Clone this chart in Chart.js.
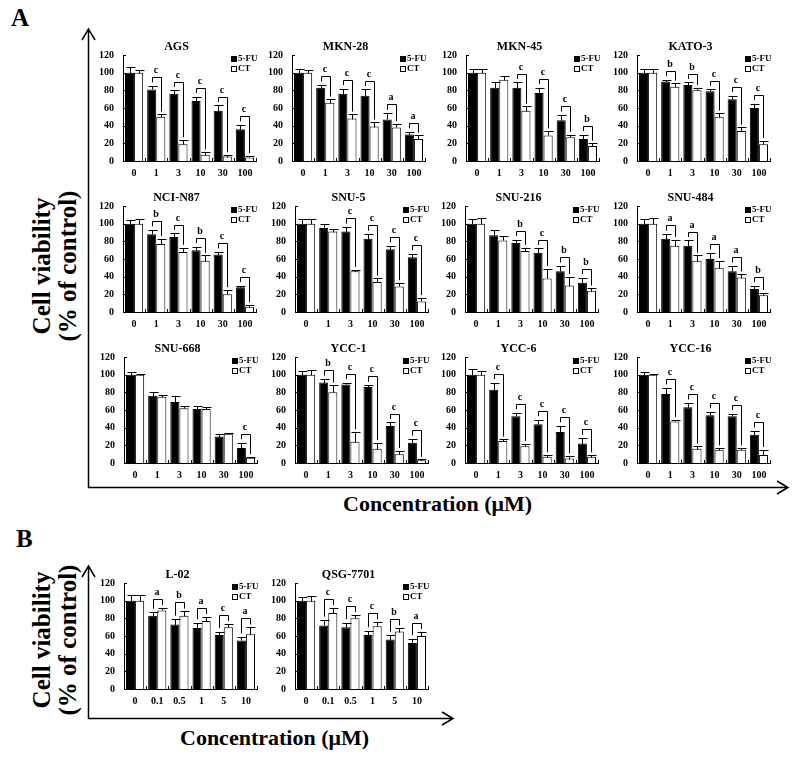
<!DOCTYPE html>
<html>
<head>
<meta charset="utf-8">
<script src="https://cdn.jsdelivr.net/npm/chart.js@4.4.1/dist/chart.umd.min.js"></script>
<style>
  body { margin: 0; width: 800px; height: 759px; background: #fff; position: relative; overflow: hidden;
         font-family: "Liberation Serif", "Times New Roman", serif; font-weight: bold; color: #000; }
  canvas { position: absolute; }
  .txt { position: absolute; white-space: nowrap; }
  .ylab { position: absolute; width: 220px; height: 52px; line-height: 26px; font-size: 25px;
          text-align: center; transform: rotate(-90deg); }
</style>
</head>
<body>

<svg width="800" height="759" style="position:absolute;left:0;top:0">
  <g stroke="#000" stroke-width="1.5" fill="none">
    <path d="M88.5 488 V29 M82 40 L88.5 29 L95 40"/>
    <path d="M88 487.5 H788 M777 481 L788 487.5 L777 494"/>
    <path d="M88.5 719 V566 M82 577 L88.5 566 L95 577"/>
    <path d="M88 718.5 H453 M442 712 L453 718.5 L442 725"/>
  </g>
</svg>

<div class="txt" style="left:11px;top:4px;font-size:25px">A</div>
<div class="txt" style="left:16px;top:525px;font-size:25px">B</div>
<div class="ylab" style="left:-55px;top:240px">Cell viability<br>(% of control)</div>
<div class="ylab" style="left:-55px;top:614px">Cell viability<br>(% of control)</div>
<div class="txt" style="left:343px;top:491px;font-size:22px">Concentration (μM)</div>
<div class="txt" style="left:180px;top:725px;font-size:22px">Concentration (μM)</div>

<script>
// concentrations (µM)
var concA = ['0', '1', '3', '10', '30', '100'];
var concB = ['0', '0.1', '0.5', '1', '5', '10'];
var yTicks = { min: 0, max: 120, step: 20 };

// % of control, mean and error
var agsFU = [100, 81, 76, 68, 57, 36],   agsFUErr = [6, 4, 4, 5, 6, 5];
var agsCT = [100, 50, 19, 7, 5, 4],      agsCTErr = [3, 3, 5, 3, 2, 2];
var agsSig = ['', 'c', 'c', 'c', 'c', 'c'];

var mkn28FU = [100, 83, 76, 74, 47, 30], mkn28FUErr = [4, 3, 6, 7, 7, 3];
var mkn28CT = [100, 66, 48, 39, 38, 25], mkn28CTErr = [3, 4, 5, 5, 4, 4];
var mkn28Sig = ['', 'c', 'c', 'c', 'a', 'a'];

var mkn45FU = [100, 83, 83, 77, 46, 25], mkn45FUErr = [4, 6, 6, 6, 6, 5];
var mkn45CT = [100, 92, 57, 29, 27, 17], mkn45CTErr = [4, 4, 5, 5, 3, 3];
var mkn45Sig = ['', '', 'c', 'c', 'c', 'b'];

var kato3FU = [100, 90, 86, 79, 70, 60], kato3FUErr = [4, 2, 3, 2, 4, 5];
var kato3CT = [100, 84, 80, 50, 34, 19], kato3CTErr = [4, 4, 3, 4, 4, 4];
var kato3Sig = ['', 'b', 'b', 'c', 'c', 'c'];

var n87FU = [100, 88, 85, 70, 65, 28],   n87FUErr = [4, 5, 4, 4, 3, 2];
var n87CT = [100, 77, 68, 58, 20, 6],    n87CTErr = [5, 6, 5, 6, 5, 2];
var n87Sig = ['', 'b', 'c', 'b', 'c', 'c'];

var snu5FU = [100, 95, 91, 83, 71, 62],  snu5FUErr = [5, 5, 5, 5, 4, 4];
var snu5CT = [100, 91, 46, 34, 29, 12],  snu5CTErr = [5, 3, 2, 4, 4, 4];
var snu5Sig = ['', '', 'c', 'c', 'c', 'c'];

var snu216FU = [100, 87, 78, 67, 46, 33], snu216FUErr = [5, 6, 4, 5, 6, 6];
var snu216CT = [100, 81, 69, 38, 30, 24], snu216CTErr = [6, 5, 4, 11, 10, 3];
var snu216Sig = ['', '', 'b', 'c', 'b', 'b'];

var snu484FU = [100, 83, 75, 60, 46, 26], snu484FUErr = [5, 5, 6, 7, 6, 4];
var snu484CT = [100, 75, 58, 50, 39, 19], snu484CTErr = [6, 7, 6, 8, 4, 3];
var snu484Sig = ['', 'a', 'a', 'a', 'a', 'b'];

var snu668FU = [100, 76, 69, 61, 30, 17], snu668FUErr = [3, 4, 7, 3, 3, 6];
var snu668CT = [100, 75, 62, 61, 33, 6],  snu668CTErr = [1, 2, 2, 2, 1, 1];
var snu668Sig = ['', '', '', '', '', 'c'];

var ycc1FU = [100, 91, 89, 86, 42, 23],  ycc1FUErr = [4, 4, 2, 2, 4, 4];
var ycc1CT = [100, 80, 24, 16, 10, 3],   ycc1CTErr = [5, 8, 11, 7, 4, 1];
var ycc1Sig = ['', 'b', 'c', 'c', 'c', 'c'];

var ycc6FU = [100, 83, 53, 44, 35, 22],  ycc6FUErr = [6, 8, 4, 5, 7, 6];
var ycc6CT = [100, 25, 19, 7, 5, 7],     ycc6CTErr = [4, 2, 3, 2, 3, 2];
var ycc6Sig = ['', 'c', 'c', 'c', 'c', 'c'];

var ycc16FU = [100, 78, 63, 54, 53, 32], ycc16FUErr = [3, 7, 5, 4, 3, 4];
var ycc16CT = [100, 47, 16, 15, 15, 9],  ycc16CTErr = [1, 2, 3, 2, 2, 6];
var ycc16Sig = ['', 'c', 'c', 'c', 'c', 'c'];

var l02FU = [100, 83, 73, 69, 61, 55],   l02FUErr = [6, 4, 6, 6, 4, 4];
var l02CT = [100, 89, 83, 77, 70, 62],   l02CTErr = [6, 3, 5, 5, 4, 8];
var l02Sig = ['', 'a', 'b', 'a', 'c', 'a'];

var qsgFU = [100, 72, 70, 61, 56, 52],   qsgFUErr = [4, 6, 5, 5, 5, 5];
var qsgCT = [100, 86, 80, 71, 65, 60],   qsgCTErr = [5, 6, 4, 5, 4, 5];
var qsgSig = ['', 'c', 'c', 'c', 'b', 'a'];

var SERIF = '"Liberation Serif", "Times New Roman", serif';
var AXIS_W = 26, TITLE_H = 18, XAXIS_H = 18, PLOT_W = 133, PLOT_H = 106, PAD_R = 4;

// panel = name, data, and where its y axis / 120 line sits on the page
var panels = [
  ['AGS', concA, agsFU, agsFUErr, agsCT, agsCTErr, agsSig, 123, 55],
  ['MKN-28', concA, mkn28FU, mkn28FUErr, mkn28CT, mkn28CTErr, mkn28Sig, 292, 55],
  ['MKN-45', concA, mkn45FU, mkn45FUErr, mkn45CT, mkn45CTErr, mkn45Sig, 466, 55],
  ['KATO-3', concA, kato3FU, kato3FUErr, kato3CT, kato3CTErr, kato3Sig, 637, 55],
  ['NCI-N87', concA, n87FU, n87FUErr, n87CT, n87CTErr, n87Sig, 123, 206],
  ['SNU-5', concA, snu5FU, snu5FUErr, snu5CT, snu5CTErr, snu5Sig, 295, 206],
  ['SNU-216', concA, snu216FU, snu216FUErr, snu216CT, snu216CTErr, snu216Sig, 465, 206],
  ['SNU-484', concA, snu484FU, snu484FUErr, snu484CT, snu484CTErr, snu484Sig, 637, 206],
  ['SNU-668', concA, snu668FU, snu668FUErr, snu668CT, snu668CTErr, snu668Sig, 124, 357],
  ['YCC-1', concA, ycc1FU, ycc1FUErr, ycc1CT, ycc1CTErr, ycc1Sig, 295, 357],
  ['YCC-6', concA, ycc6FU, ycc6FUErr, ycc6CT, ycc6CTErr, ycc6Sig, 465, 357],
  ['YCC-16', concA, ycc16FU, ycc16FUErr, ycc16CT, ycc16CTErr, ycc16Sig, 637, 357],
  ['L-02', concB, l02FU, l02FUErr, l02CT, l02CTErr, l02Sig, 124, 583],
  ['QSG-7701', concB, qsgFU, qsgFUErr, qsgCT, qsgCTErr, qsgSig, 295, 583]
];

// error bars, inside ticks, significance brackets and the little legend
var extras = {
  id: 'extras',
  afterDatasetsDraw: function(chart, args, opts) {
    var ctx = chart.ctx, ys = chart.scales.y, ca = chart.chartArea;
    var fu = chart.data.datasets[0], ct = chart.data.datasets[1];
    var mFu = chart.getDatasetMeta(0), mCt = chart.getDatasetMeta(1);
    var px = function(v) { return Math.round(v) + 0.5; };
    ctx.save();
    ctx.strokeStyle = '#000';
    ctx.fillStyle = '#000';
    ctx.lineWidth = 1;

    [[fu, mFu], [ct, mCt]].forEach(function(pair) {
      var ds = pair[0];
      pair[1].data.forEach(function(bar, i) {
        var x = px(bar.x);
        var y1 = px(ys.getPixelForValue(ds.data[i] + ds.err[i]));
        var cap = Math.round(bar.width * 0.42);
        ctx.beginPath();
        ctx.moveTo(x, px(bar.y)); ctx.lineTo(x, y1);
        ctx.moveTo(x - cap, y1); ctx.lineTo(x + cap + 1, y1);
        ctx.stroke();
      });
    });

    // inside tick marks
    ctx.beginPath();
    for (var v = yTicks.min; v <= yTicks.max; v += yTicks.step) {
      var ty = px(ys.getPixelForValue(v));
      ctx.moveTo(ca.left, ty); ctx.lineTo(ca.left + 3, ty);
    }
    var n = chart.data.labels.length;
    for (var k = 1; k <= n; k++) {
      var tx = px(ca.left + k * ca.width / n);
      ctx.moveTo(tx, ca.bottom); ctx.lineTo(tx, ca.bottom - 3);
    }
    ctx.stroke();

    ctx.font = 'bold 10px ' + SERIF;
    ctx.textAlign = 'center';
    ctx.textBaseline = 'alphabetic';
    opts.sig.forEach(function(s, i) {
      if (!s) return;
      var a = fu.data[i] + fu.err[i], b = ct.data[i] + ct.err[i];
      var top = Math.max(a, b) + 10;
      var xl = px(mFu.data[i].x), xr = px(mCt.data[i].x);
      var yt = px(ys.getPixelForValue(top));
      ctx.beginPath();
      ctx.moveTo(xl, ys.getPixelForValue(a + 4));
      ctx.lineTo(xl, yt); ctx.lineTo(xr, yt);
      ctx.lineTo(xr, ys.getPixelForValue(b + 3));
      ctx.stroke();
      ctx.fillText(s, (xl + xr) / 2 - 1, yt - 5);
    });

    var lx = Math.round(ca.left + 108), ly = Math.round(ca.top + 4);
    ctx.font = 'bold 9px ' + SERIF;
    ctx.textAlign = 'left';
    ctx.textBaseline = 'middle';
    ctx.fillRect(lx, ly - 3, 6, 6);
    ctx.fillText(fu.label, lx + 7, ly);
    ctx.strokeRect(lx + 0.5, ly + 7.5, 5, 5);
    ctx.fillText(ct.label, lx + 7, ly + 10);
    ctx.restore();
  }
};

panels.forEach(function(p) {
  var canvas = document.createElement('canvas');
  canvas.width = AXIS_W + PLOT_W + PAD_R;
  canvas.height = TITLE_H + PLOT_H + XAXIS_H;
  canvas.style.left = (p[7] - AXIS_W) + 'px';
  canvas.style.top = (p[8] - TITLE_H) + 'px';
  document.body.appendChild(canvas);

  var tickFont = { family: SERIF, size: 10, weight: 'bold' };
  new Chart(canvas.getContext('2d'), {
    type: 'bar',
    data: {
      labels: p[1],
      datasets: [
        { label: '5-FU', data: p[2], err: p[3], backgroundColor: '#000', borderColor: '#000', borderWidth: 1,
          categoryPercentage: 0.82, barPercentage: 1.0 },
        { label: 'CT', data: p[4], err: p[5], backgroundColor: '#fff', borderColor: '#000', borderWidth: 1,
          categoryPercentage: 0.82, barPercentage: 1.0 }
      ]
    },
    options: {
      responsive: false,
      animation: false,
      layout: { padding: { left: 0, right: PAD_R, top: 0, bottom: 0 } },
      plugins: {
        legend: { display: false },
        tooltip: { enabled: false },
        title: { display: true, text: p[0], color: '#000',
                 font: { family: SERIF, size: 12, weight: 'bold', lineHeight: 1 },
                 padding: { top: 4, bottom: 2 } },
        extras: { sig: p[6] }
      },
      scales: {
        x: {
          z: 1,
          grid: { display: false, drawTicks: false },
          border: { display: true, color: '#000', width: 1 },
          ticks: { color: '#000', font: tickFont, padding: 6, maxRotation: 0, autoSkip: false },
          afterFit: function(s) { s.height = XAXIS_H; }
        },
        y: {
          min: yTicks.min, max: yTicks.max,
          grid: { display: false, drawTicks: false },
          border: { display: true, color: '#000', width: 1 },
          ticks: { stepSize: yTicks.step, color: '#000', font: tickFont, padding: 9 },
          afterFit: function(s) { s.width = AXIS_W; }
        }
      }
    },
    plugins: [extras]
  });
});
</script>
</body>
</html>
